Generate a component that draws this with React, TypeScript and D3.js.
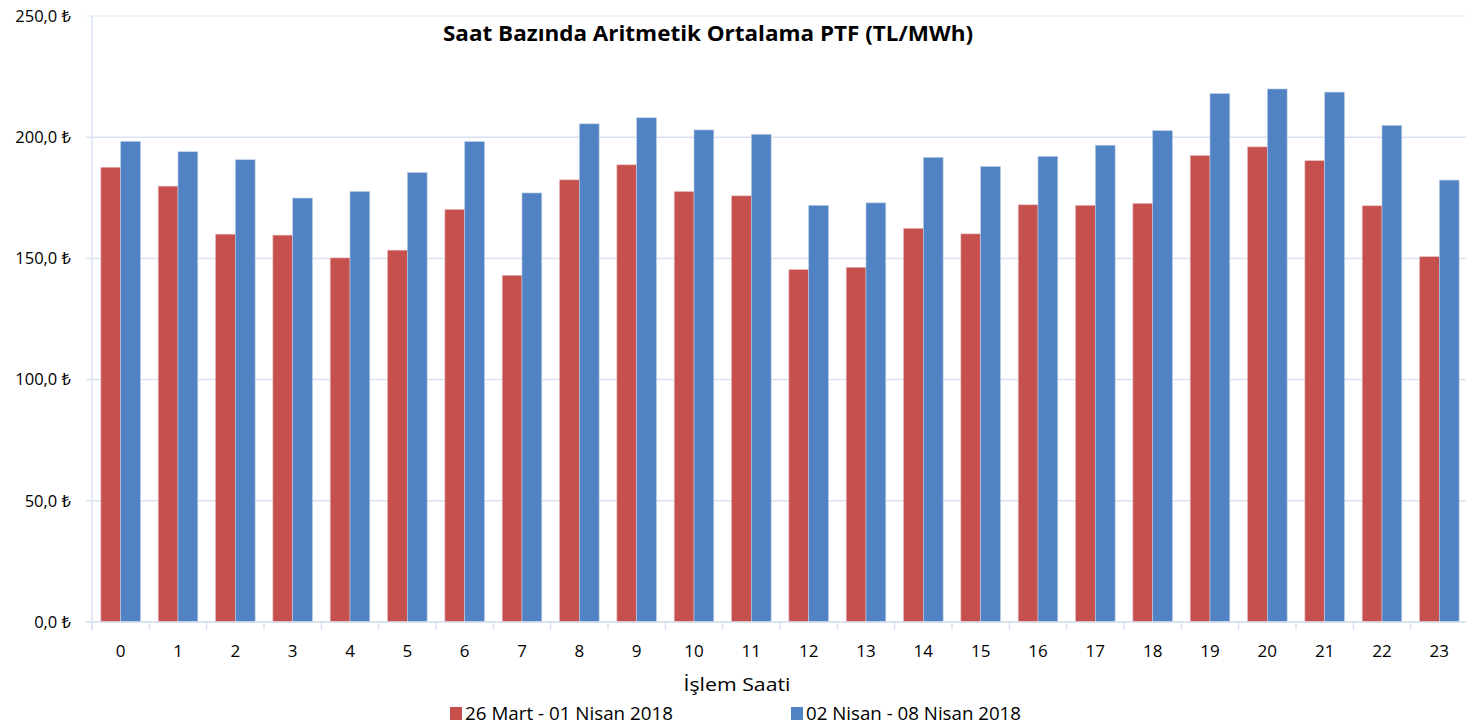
import React, { useEffect, useRef } from 'react';
import * as d3 from 'd3';

// hours 0..23
const hours: string[] = d3.range(24).map(String);

// 26 Mart - 01 Nisan 2018
const week1: number[] = [
  187.6, 179.8, 160.0, 159.6, 150.2, 153.4, 170.2, 143.0, 182.4, 188.6, 177.6, 175.8,
  145.4, 146.3, 162.4, 160.1, 172.1, 171.9, 172.7, 192.4, 196.0, 190.3, 171.7, 150.7,
];

// 02 Nisan - 08 Nisan 2018
const week2: number[] = [
  198.3, 194.0, 190.7, 174.9, 177.6, 185.4, 198.2, 177.0, 205.5, 208.0, 203.0, 201.2,
  171.9, 172.9, 191.7, 187.9, 192.1, 196.7, 202.7, 218.0, 219.9, 218.6, 204.9, 182.3,
];

const seriesNames: string[] = ['26 Mart - 01 Nisan 2018', '02 Nisan - 08 Nisan 2018'];
const seriesColors: string[] = ['#c5504e', '#5183c4'];
const yTicks: number[] = [0, 50, 100, 150, 200, 250];

const title = 'Saat Bazında Aritmetik Ortalama PTF (TL/MWh)';
const xTitle = 'İşlem Saati';

export default function App() {
  const ref = useRef<SVGSVGElement | null>(null);

  useEffect(() => {
    const width = 1466;
    const height = 726;
    const margin = { top: 16, right: -2, bottom: 104, left: 92 };
    const font = '"Open Sans", "Noto Sans", "DejaVu Sans", sans-serif';
    const gridColor = '#d9e2f0';

    const svg = d3.select(ref.current)
      .attr('width', width)
      .attr('height', height)
      .attr('font-family', font);
    svg.selectAll('*').remove();

    const x = d3.scaleBand<string>()
      .domain(hours)
      .range([margin.left, width - margin.right])
      .paddingInner(0.31)
      .paddingOuter(0.155);

    const xs = d3.scaleBand<number>()
      .domain([0, 1])
      .range([0, x.bandwidth()]);

    const y = d3.scaleLinear()
      .domain([0, 250])
      .range([height - margin.bottom, margin.top]);

    const fmt = (v: number) => d3.format('.1f')(v).replace('.', ',') + ' ₺';

    // gridlines + y labels
    const yAxis = svg.append('g');
    yAxis.selectAll('line')
      .data(yTicks)
      .join('line')
      .attr('x1', margin.left - 6)
      .attr('x2', width)
      .attr('y1', d => y(d))
      .attr('y2', d => y(d))
      .attr('stroke', (d) => (d === 250 ? '#eef3f9' : gridColor))
      .attr('stroke-width', 1.5);
    yAxis.selectAll('text')
      .data(yTicks)
      .join('text')
      .attr('x', 71)
      .attr('y', d => y(d))
      .attr('dy', '0.35em')
      .attr('text-anchor', 'end')
      .attr('font-size', 16.5)
      .attr('fill', '#000')
      .text(d => fmt(d));

    // y axis line
    svg.append('line')
      .attr('x1', margin.left).attr('x2', margin.left)
      .attr('y1', y(250)).attr('y2', y(0) + 8)
      .attr('stroke', gridColor)
      .attr('stroke-width', 1.5);

    // bars
    const data = [week1, week2];
    const groups = svg.append('g')
      .selectAll('g')
      .data(hours)
      .join('g')
      .attr('transform', d => `translate(${x(d)},0)`);

    groups.selectAll('rect')
      .data((d, i) => data.map((s, k) => ({ k, v: s[i] })))
      .join('rect')
      .attr('x', d => xs(d.k)!)
      .attr('width', xs.bandwidth())
      .attr('y', d => y(d.v))
      .attr('height', d => y(0) - y(d.v))
      .attr('fill', d => seriesColors[d.k])
      .attr('stroke', (d) => (d.k === 0 ? '#e6b9b8' : '#b9cde5'))
      .attr('stroke-width', 0.6);

    // x axis line and ticks at category boundaries
    svg.append('line')
      .attr('x1', margin.left - 6).attr('x2', width)
      .attr('y1', y(0)).attr('y2', y(0))
      .attr('stroke', gridColor)
      .attr('stroke-width', 1.5);

    const step = x.step();
    svg.append('g')
      .selectAll('line')
      .data(d3.range(hours.length + 1))
      .join('line')
      .attr('x1', i => margin.left + i * step)
      .attr('x2', i => margin.left + i * step)
      .attr('y1', y(0))
      .attr('y2', y(0) + 8)
      .attr('stroke', gridColor)
      .attr('stroke-width', 1.5);

    svg.append('g')
      .selectAll('text')
      .data(hours)
      .join('text')
      .attr('x', d => x(d)! + x.bandwidth() / 2)
      .attr('y', y(0) + 35)
      .attr('text-anchor', 'middle')
      .attr('font-size', 17)
      .text(d => d);

    // titles
    svg.append('text')
      .attr('x', 708)
      .attr('y', 41)
      .attr('text-anchor', 'middle')
      .attr('font-size', 22)
      .attr('font-weight', 'bold')
      .attr('textLength', 530)
      .attr('lengthAdjust', 'spacingAndGlyphs')
      .text(title);

    svg.append('text')
      .attr('x', 737)
      .attr('y', 691)
      .attr('text-anchor', 'middle')
      .attr('font-size', 17.5)
      .attr('textLength', 107)
      .attr('lengthAdjust', 'spacingAndGlyphs')
      .text(xTitle);

    // legend
    const legendX = [450, 791];
    const legendW = [208, 215];
    const legend = svg.append('g')
      .selectAll('g')
      .data(seriesNames)
      .join('g')
      .attr('transform', (d, i) => `translate(${legendX[i]},${714})`);
    legend.append('rect')
      .attr('x', 0).attr('y', -7)
      .attr('width', 12).attr('height', 13)
      .attr('fill', (d, i) => seriesColors[i]);
    legend.append('text')
      .attr('x', 15)
      .attr('y', 0)
      .attr('dy', '0.35em')
      .attr('font-size', 18.5)
      .attr('textLength', (d, i) => legendW[i])
      .attr('lengthAdjust', 'spacingAndGlyphs')
      .text(d => d);
  }, []);

  return (
    <svg ref={ref} style={{ position: 'absolute', left: 0, top: 0, background: '#fff' }} />
  );
}
